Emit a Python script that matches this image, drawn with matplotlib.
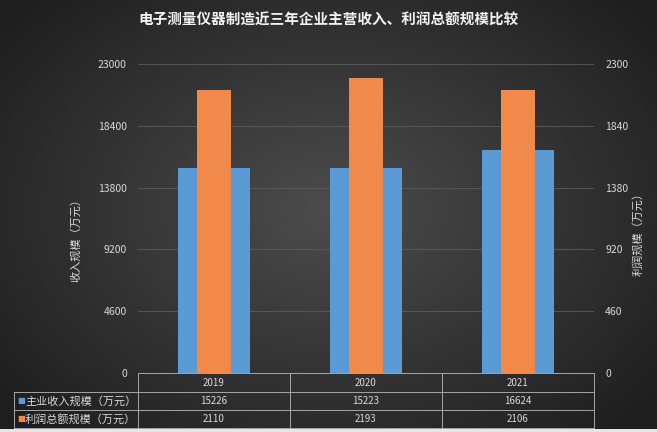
import numpy as np
import matplotlib
matplotlib.use('Agg')
import matplotlib.pyplot as plt
from matplotlib.lines import Line2D
from matplotlib.patches import Rectangle

plt.rcParams['font.family'] = ['Noto Sans CJK SC', 'DejaVu Sans']

years = ['2019', '2020', '2021']
income = [15226, 15223, 16624]
profit = [2110, 2193, 2106]
series_names = ['主业收入规模（万元）', '利润总额规模（万元）']
left_ticks = [0, 4600, 9200, 13800, 18400, 23000]
right_ticks = [0, 460, 920, 1380, 1840, 2300]

title = '电子测量仪器制造近三年企业主营收入、利润总额规模比较'
text_c = '#d9d9d9'
blue = '#5b9bd5'
orange = '#f0894a'

W, H = 657, 432
fig = plt.figure(figsize=(W / 100, H / 100), dpi=100)

# radial gradient background
bg = fig.add_axes([0, 0, 1, 1])
yy, xx = np.mgrid[0:H, 0:W]
r = np.sqrt(((xx - 330) / 420.0) ** 2 + ((yy - 210) / 300.0) ** 2)
shade = np.clip(0.30 - 0.18 * r, 0.12, 0.30)
bg.imshow(np.dstack([shade] * 3), aspect='auto', extent=[0, 1, 0, 1])
bg.axis('off')


def fx(px):
    return px / W


def fy(py):
    return 1 - py / H


x0, x1, ytop, ybot = 138, 594, 64, 373
ax = fig.add_axes([fx(x0), fy(ybot), fx(x1 - x0), (ybot - ytop) / H])
ax.set_facecolor('none')
ax2 = ax.twinx()

x = np.arange(len(years))
ax.bar(x, income, width=0.47, color=blue, zorder=2)
ax2.bar(x, profit, width=0.22, color=orange, zorder=3)

ax.set_xlim(-0.5, len(years) - 0.5)
ax.set_ylim(0, 23000)
ax2.set_ylim(0, 2300)
ax.set_yticks(left_ticks)
ax2.set_yticks(right_ticks)
ax.grid(axis='y', color='#5c5c5c', linewidth=0.6, zorder=0)
ax.set_axisbelow(True)
ax.set_xticks([])
for a in (ax, ax2):
    for s in a.spines.values():
        s.set_visible(False)
    a.tick_params(axis='y', length=0, labelsize=7.5, labelcolor=text_c, pad=8)

ax.set_ylabel('收入规模（万元）', color=text_c, fontsize=8)
ax.yaxis.set_label_coords((81 - x0) / (x1 - x0), (ybot - 237) / (ybot - ytop))
ax2.set_ylabel('利润规模（万元）', color=text_c, fontsize=8)
ax2.yaxis.set_label_coords((633 - x0) / (x1 - x0), (ybot - 231) / (ybot - ytop))

fig.text(0.5, fy(20), title, ha='center', va='center', color='#f2f2f2',
         fontsize=10.5, fontweight='bold')

# data table under the plot
line_c = '#a6a6a6'
rows_y = [373, 392, 410, 428]
col_w = (x1 - x0) / len(years)
cols_x = [x0 + i * col_w for i in range(len(years) + 1)]
lx = 14


def hline(xa, xb, y):
    fig.add_artist(Line2D([fx(xa), fx(xb)], [fy(y), fy(y)], color=line_c, lw=0.7))


def vline(x, ya, yb):
    fig.add_artist(Line2D([fx(x), fx(x)], [fy(ya), fy(yb)], color=line_c, lw=0.7))


hline(x0, x1, rows_y[0])
for y in rows_y[1:]:
    hline(lx, x1, y)
vline(lx, rows_y[1], rows_y[3])
for cx in cols_x:
    vline(cx, rows_y[0], rows_y[3])

for i, yr in enumerate(years):
    cx = (cols_x[i] + cols_x[i + 1]) / 2
    fig.text(fx(cx), fy((rows_y[0] + rows_y[1]) / 2), yr, ha='center', va='center',
             color=text_c, fontsize=7)
    fig.text(fx(cx), fy((rows_y[1] + rows_y[2]) / 2), str(income[i]), ha='center',
             va='center', color=text_c, fontsize=7)
    fig.text(fx(cx), fy((rows_y[2] + rows_y[3]) / 2), str(profit[i]), ha='center',
             va='center', color=text_c, fontsize=7)

for k, (name, c) in enumerate(zip(series_names, [blue, orange])):
    yc = fy((rows_y[k + 1] + rows_y[k + 2]) / 2)
    fig.text(fx(lx + 3), yc, '■', ha='left', va='center', color=c, fontsize=6,
             family='DejaVu Sans')
    fig.text(fx(lx + 11), yc, name, ha='left', va='center', color=text_c, fontsize=8)

# light strip along the bottom edge
fig.add_artist(Rectangle((0, 0), 1, 3 / H, transform=fig.transFigure,
                         color='#e6e6e6', lw=0))

fig.savefig('out.png', dpi=100)
